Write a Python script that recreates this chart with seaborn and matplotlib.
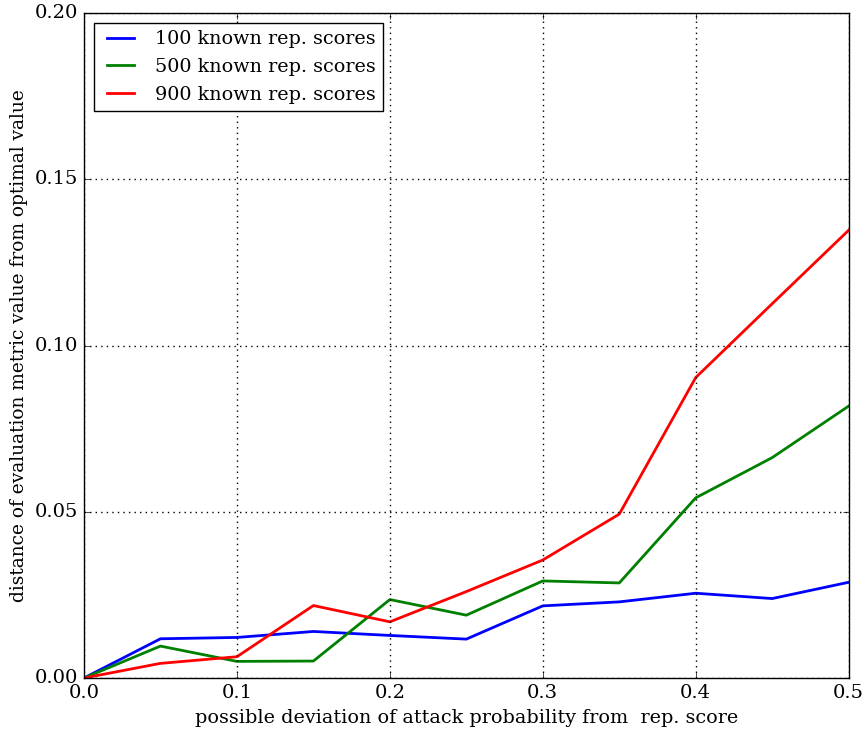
import matplotlib
matplotlib.use("Agg")
import matplotlib.pyplot as plt
import numpy as np
import pandas as pd
import seaborn as sns

# deviation values on the x axis
deviation = [0.0, 0.05, 0.1, 0.15, 0.2, 0.25, 0.3, 0.35, 0.4, 0.45, 0.5]

# distance from optimal value, one list per number of known scores
known_100 = [0.0, 0.0118, 0.0122, 0.0140, 0.0128, 0.0117, 0.0217, 0.0229, 0.0255, 0.0239, 0.0288]
known_500 = [0.0, 0.0096, 0.0050, 0.0051, 0.0236, 0.0189, 0.0292, 0.0286, 0.0542, 0.0663, 0.0818]
known_900 = [0.0, 0.0044, 0.0064, 0.0218, 0.0169, 0.0260, 0.0355, 0.0493, 0.0904, 0.1126, 0.1347]

series_names = ["100 known rep. scores", "500 known rep. scores", "900 known rep. scores"]
series_colors = ["blue", "green", "red"]

rows = []
for name, vals in zip(series_names, [known_100, known_500, known_900]):
    for x, y in zip(deviation, vals):
        rows.append({"deviation": x, "distance": y, "series": name})
df = pd.DataFrame(rows)

plt.style.use("classic")
plt.rcParams["font.family"] = ["DejaVu Serif"]

fig = plt.figure(figsize=(8.66, 7.31), dpi=100, facecolor="white")
ax = fig.add_axes([0.097, 0.0725, 0.883, 0.9095])

sns.lineplot(data=df, x="deviation", y="distance", hue="series",
             palette=series_colors, linewidth=2, ax=ax, legend=True)

ax.set_xlim(0, 0.5)
ax.set_ylim(0, 0.2)
ax.set_xticks([0.0, 0.1, 0.2, 0.3, 0.4, 0.5])
ax.set_yticks([0.0, 0.05, 0.10, 0.15, 0.20])
ax.set_yticklabels(["0.00", "0.05", "0.10", "0.15", "0.20"])
ax.tick_params(labelsize=14)
ax.grid(True, color="black", linestyle=":", linewidth=1)

ax.set_xlabel("possible deviation of attack probability from  rep. score", fontsize=13.8)
ax.set_ylabel("distance of evaluation metric value from optimal value", fontsize=13.4)

handles, labels = ax.get_legend_handles_labels()
ax.legend(handles, labels, loc="upper left", fontsize=13.8, frameon=True,
          fancybox=False, handlelength=2)

fig.savefig("out.png", dpi=100, facecolor="white")
